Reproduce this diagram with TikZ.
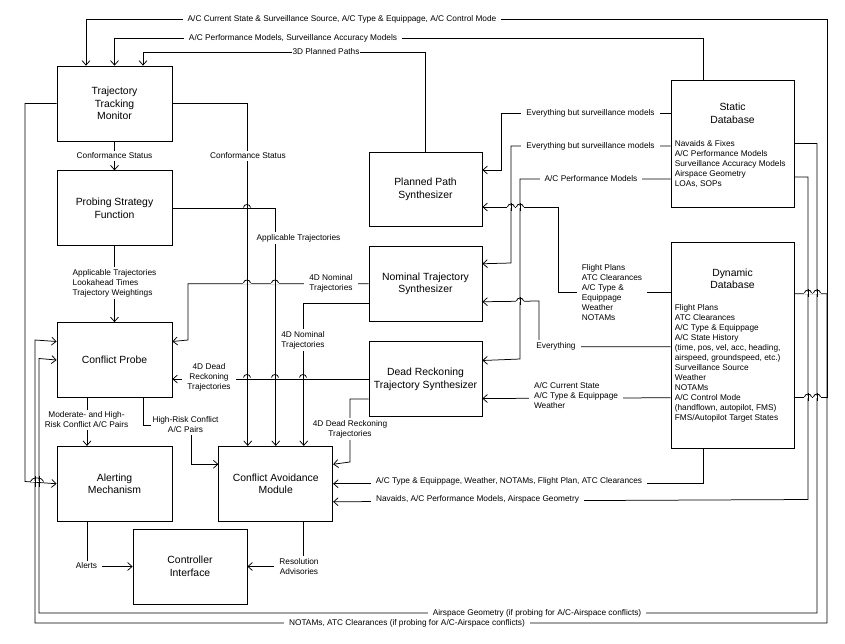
\documentclass[tikz,border=0pt]{standalone}
\usepackage{fontspec}
\setmainfont{Liberation Sans}
\usepackage{tikz}
\usetikzlibrary{positioning,arrows.meta}
\tikzset{
  wire/.style={line width=0.75pt, draw=black},
  ar/.style={wire, -{Straight Barb[length=4.5pt,width=8pt]}},
  blk/.style={rectangle, draw=black, line width=0.75pt, fill=white, align=center,
              font=\fontsize{10.4}{12.7}\selectfont, inner sep=0pt,
              minimum width=114pt, minimum height=75pt},
  dbbox/.style={rectangle, draw=black, line width=0.75pt, fill=white,
              minimum width=123pt, minimum height=#1},
  dbname/.style={align=center, font=\fontsize{10.4}{12.7}\selectfont, inner sep=0pt},
  dbtxt/.style={font=\fontsize{8.3}{10}\selectfont, align=left, inner sep=0pt, anchor=west},
  lbl/.style={font=\fontsize{8.3}{10}\selectfont, fill=white, align=center,
              inner xsep=5pt, inner ysep=2pt},
}
\newcommand{\linehop}[2]{%
  \fill[white] (#1-3.6,#2-0.9) rectangle (#1+3.6,#2+0.9);
  \draw[wire] (#1-3.5,#2) arc[start angle=180, end angle=0, x radius=3.5pt, y radius=3pt];
  \draw[wire] (#1,#2-4) -- (#1,#2+4);
}

\begin{document}
\begin{tikzpicture}[x=1pt, y=-1pt]
  \fill[white] (0,0) rectangle (845,643);
  \useasboundingbox (0,0) rectangle (845,643);

  \node[blk, minimum width=115pt] (ttm) at (114.5,103.5) {Trajectory\\Tracking\\Monitor};
  \node[blk, minimum width=115pt, below=29pt of ttm] (psf) {Probing Strategy\\Function};
  \node[blk, minimum width=115pt, below=76pt of psf] (cp) {Conflict Probe};
  \node[blk, minimum width=115pt, below=48pt of cp] (am) {Alerting\\Mechanism};
  \node[blk, right=46pt of am] (cam) {Conflict Avoidance\\Module};
  \node[blk] (ci) at (190,566.5) {Controller\\Interface};
  \node[blk, minimum width=113pt, minimum height=74pt] (pps) at (425.5,189) {Planned Path\\Synthesizer};
  \node[blk, minimum width=113pt, below=19.5pt of pps] (nts) {Nominal Trajectory\\Synthesizer};
  \node[blk, minimum width=113pt, below=19.5pt of nts] (drts) {Dead Reckoning\\Trajectory Synthesizer};
  \node[dbbox=127pt] (sdb) at (732.5,143.5) {};
  \node[dbbox=206pt, below=35pt of sdb] (ddb) {};

  \node[dbname] (sdbname) at ([yshift=-33.5pt]sdb.north) {Static\\Database};
  \node[dbtxt] (sdblist) at ([xshift=4pt,yshift=-20.5pt]sdb.west) {Navaids \& Fixes\\A/C Performance Models\\Surveillance Accuracy Models\\Airspace Geometry\\LOAs, SOPs};
  \node[dbname] (ddbname) at ([yshift=-36.5pt]ddb.north) {Dynamic\\Database};
  \node[dbtxt] (ddblist) at ([xshift=4pt,yshift=-18pt]ddb.west) {Flight Plans\\ATC Clearances\\A/C Type \& Equippage\\A/C State History\\(time, pos, vel, acc, heading,\\airspeed, groundspeed, etc.)\\Surveillance Source\\Weather\\NOTAMs\\A/C Control Mode\\(handflown, autopilot, FMS)\\FMS/Autopilot Target States};

  % into the tracking monitor
  \draw[ar] ([yshift=-52pt]ddb.east) -| (827,19) -| ([xshift=-28.5pt]ttm.north);
  \draw[ar] ([xshift=-29.5pt]sdb.north) -- (703,38) -| (ttm.north);
  \draw[ar] (pps.north) -- (425.5,52) -| ([xshift=28.5pt]ttm.north);
  \draw[ar] (ttm) -- (psf);
  \draw[ar] (ttm.east) -| ([xshift=-28pt]cam.north);
  \draw[ar] (ttm.west) -| (25,481.5) -- (am.west);
  \draw[ar] (psf.east) -| (cam.north);
  \draw[ar] (psf) -- (cp);
  \draw[ar] (nts.west) -| (188,340) -- ([yshift=18.5pt]cp.east);
  \draw[ar] ([yshift=-20pt]nts.west) -| ([xshift=28pt]cam.north);
  \draw[ar] (drts.west) -- ([yshift=-19pt]cp.east);
  \draw[ar] ([yshift=-20pt]drts.west) -| (350,462) -- ([yshift=19.5pt]cam.east);
  \draw[ar] ([xshift=-27.5pt]cp.south) -- ([xshift=-27.5pt]am.north);
  \draw[ar] ([xshift=28.5pt]cp.south) |- (191,425) |- ([yshift=19.5pt]cam.west);
  \draw[ar] ([xshift=-27.5pt]am.south) |- (ci.west);
  \draw[ar] ([xshift=28pt]cam.south) |- (ci.east);
  \draw[ar] ([xshift=-29.5pt]ddb.south) |- (cam.east);
  \draw[ar] ([yshift=-33.5pt]sdb.east) -| (808,499.5) -- ([yshift=-18pt]cam.east);
  \draw[ar] (sdb.east) -| (817,613) -| (39,358.5) -- (cp.west);
  \draw[ar] ([yshift=52pt]ddb.east) -| (827,623) -| (35,340) -- ([yshift=18.5pt]cp.west);
  % into the synthesizers
  \draw[ar] ([yshift=30.5pt]sdb.west) -| (501,170) -- ([yshift=19pt]pps.east);
  \draw[ar] ([yshift=-2.5pt]sdb.west) -| (511,263) -- ([yshift=20pt]nts.east);
  \draw[ar] ([yshift=-35.5pt]sdb.west) -| (520,359) -- ([yshift=18.5pt]drts.east);
  \draw[ar] ([yshift=53pt]ddb.west) -| (558,207) -- ([yshift=-18pt]pps.east);
  \draw[ar] ([yshift=-1pt]ddb.west) -| (539,301) -- ([yshift=-18pt]nts.east);
  \draw[ar] ([yshift=-52pt]ddb.west) -- ([yshift=-19.5pt]drts.east);

  \linehop{247}{207.5}
  \linehop{247}{283} \linehop{275}{283}
  \linehop{247}{377.5} \linehop{275}{377.5} \linehop{303}{377.5}
  \linehop{511}{207} \linehop{520}{207} \linehop{520}{301}
  \linehop{808}{293} \linehop{817}{293} \linehop{808}{397} \linehop{817}{397}
  \fill[white] (30.5,480.6) rectangle (43.5,482.4);
  \draw[wire] (30.5,481.5) arc[start angle=180, end angle=0, x radius=6.5pt, y radius=3.5pt];
  \draw[wire] (35,476) -- (35,487);
  \draw[wire] (39,476) -- (39,487);

  \node[lbl] (l1) at (342,19) {A/C Current State \& Surveillance Source, A/C Type \& Equippage, A/C Control Mode};
  \node[lbl] (l2) at (293,38) {A/C Performance Models, Surveillance Accuracy Models};
  \node[lbl, inner xsep=1pt] (l3) at (326,52) {3D Planned Paths};
  \node[lbl] (l4) at (114.5,156) {Conformance Status};
  \node[lbl] (l5) at (248,156) {Conformance Status};
  \node[lbl, inner xsep=1pt] (l6) at (298.5,238) {Applicable Trajectories};
  \node[lbl, align=left] (l7) at (114.5,283) {Applicable Trajectories\\Lookahead Times\\Trajectory Weightings};
  \node[lbl] (l8) at (331,283) {4D Nominal\\Trajectories};
  \node[lbl, inner xsep=1pt] (l9) at (303,340) {4D Nominal\\Trajectories};
  \node[lbl] (l10) at (209,377) {4D Dead\\Reckoning\\Trajectories};
  \node[lbl, inner xsep=1pt] (l11) at (350,429) {4D Dead Reckoning\\Trajectories};
  \node[lbl, inner xsep=1pt] (l12) at (86.5,420) {Moderate- and High-\\Risk Conflict A/C Pairs};
  \node[lbl, inner xsep=2pt] (l13) at (185.5,425) {High-Risk Conflict\\A/C Pairs};
  \node[lbl] (l14) at (86.5,566) {Alerts};
  \node[lbl] (l15) at (299,566.5) {Resolution\\Advisories};
  \node[lbl] (l16) at (509,481.5) {A/C Type \& Equippage, Weather, NOTAMs, Flight Plan, ATC Clearances};
  \node[lbl] (l17) at (477.5,499.5) {Navaids, A/C Performance Models, Airspace Geometry};
  \node[lbl, inner ysep=1pt] (l18) at (537,613) {Airspace Geometry (if probing for A/C-Airspace conflicts)};
  \node[lbl, inner ysep=1pt] (l19) at (407,623) {NOTAMs, ATC Clearances (if probing for A/C-Airspace conflicts)};
  \node[lbl] (l20) at (590.5,113) {Everything but surveillance models};
  \node[lbl] (l21) at (590.5,146) {Everything but surveillance models};
  \node[lbl] (l22) at (591,179) {A/C Performance Models};
  \node[lbl, align=left] (l23) at (612,292.5) {Flight Plans\\ATC Clearances\\A/C Type \&\\Equippage\\Weather\\NOTAMs};
  \node[lbl] (l24) at (556,346) {Everything};
  \node[lbl, align=left] (l25) at (576,396) {A/C Current State\\A/C Type \& Equippage\\Weather};
\end{tikzpicture}
\end{document}
